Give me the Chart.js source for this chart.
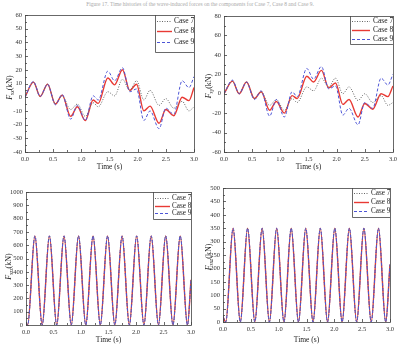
<!DOCTYPE html>
<html>
<head>
<meta charset="utf-8">
<script src="https://cdn.jsdelivr.net/npm/chart.js@4.4.1/dist/chart.umd.min.js"></script>
<style>
  html, body { margin: 0; padding: 0; background: #fff; }
  #wrap { position: relative; width: 400px; height: 346px; overflow: hidden; }
  #wrap canvas { position: absolute; left: 0; top: 0; }
  #caption { position: absolute; left: 0; top: 1px; width: 400px; text-align: center;
             font: 5.5px "Liberation Serif", serif; line-height: 7px; color: #aaa; }
</style>
</head>
<body>
<div id="wrap">
  <div id="caption">Figure 17. Time histories of the wave-induced forces on the components for Case 7, Case 8 and Case 9.</div>
  <canvas id="c1" width="400" height="346"></canvas>
  <canvas id="c2" width="400" height="346"></canvas>
  <canvas id="c3" width="400" height="346"></canvas>
  <canvas id="c4" width="400" height="346"></canvas>
</div>
<script>
// time (s) at the turning points of the upper curves
const timeTop = [0, 0.15, 0.27, 0.40, 0.54, 0.66, 0.81, 0.93, 1.07, 1.21, 1.30, 1.47, 1.59, 1.73, 1.86, 1.98, 2.11, 2.22, 2.38, 2.50, 2.64, 2.79, 2.91, 3.0];

// F_sx (kN)
const fxCase7 = [0, 11, 0.5, 9.5, -5, 1, -9, -5, -14, -4, -7, 4, 1, 13, 5, 12, -2, 5, -6, -1, -8, -3, -10, -7];
const fxCase8 = [0, 11, 0.5, 9.5, -5, 1.5, -14, -7, -17, -2, -4.5, 14, 9, 20, 5, 9.5, -10, -6.5, -19, -9, -13.5, 0, -2.5, 7];
const fxCase9 = [0, 11.5, 0.5, 9.5, -5.5, 2, -16, -6, -17, 1, -2, 19, 12, 21.5, 4, 6, -17, -10, -23, -8, -12.5, 12, 7, 15];

// F_sy (kN)
const fyCase7 = [0, 13, 0, 12, -5, 2, -12, -6, -17, -5, -9, 7, 3, 16, 7, 16, 0, 7, -7, 0, -9, -2, -12, -9];
const fyCase8 = [0, 13, 0, 12, -5, 2, -17, -8, -20, -2, -5, 18, 12, 24, 6, 11, -11, -6, -24, -10, -16, 0, -3, 8];
const fyCase9 = [0, 14, 0, 12, -6, 3, -23, -6, -24, 2, -3, 26, 15, 28, 5, 8, -22, -15, -32, -9, -15, 16, 9, 20];

// lower left: troughs and crests (the three cases coincide)
const timeLowL = [0, 0.030, 0.162, 0.294, 0.426, 0.558, 0.691, 0.823, 0.955, 1.087, 1.219, 1.351, 1.483, 1.615, 1.747, 1.879, 2.012, 2.144, 2.276, 2.408, 2.540, 2.672, 2.804, 2.936, 3.0];
const fzzL = [20, 0, 670, 0, 670, 0, 670, 0, 670, 0, 670, 0, 670, 0, 670, 0, 670, 0, 670, 0, 670, 0, 670, 0, 340];

// lower right
const timeLowR = [0, 0.050, 0.181, 0.311, 0.442, 0.572, 0.703, 0.834, 0.964, 1.095, 1.225, 1.356, 1.487, 1.617, 1.748, 1.878, 2.009, 2.140, 2.270, 2.401, 2.531, 2.662, 2.793, 2.923, 3.0];
const fzzR = [20, 0, 350, 0, 350, 0, 350, 0, 350, 0, 350, 0, 350, 0, 350, 0, 350, 0, 350, 0, 350, 0, 350, 0, 215];

const caseNames = ['Case 7', 'Case 8', 'Case 9'];

const serif = '"Liberation Serif", "Times New Roman", serif';
const zip = (xs, ys) => xs.map((x, i) => ({ x: x, y: ys[i] }));

// room kept for the tick labels of each axis
const Y_AXIS_W = 24;
const X_AXIS_H = 11;

function caseSets(times, v7, v8, v9) {
    return [
        { label: caseNames[0], data: zip(times, v7), borderColor: '#666', borderWidth: 1, borderDash: [1, 1.5], order: 1 },
        { label: caseNames[1], data: zip(times, v8), borderColor: '#e83a34', borderWidth: 1.4, borderDash: [], order: 2 },
        { label: caseNames[2], data: zip(times, v9), borderColor: '#4d55d6', borderWidth: 1, borderDash: [3, 2], order: 0 }
    ];
}

// frame, inward ticks, axis titles and the boxed legend
const framePlugin = {
    id: 'frame',
    afterDraw(chart, args, o) {
        const { ctx, chartArea: a, scales: { x, y } } = chart;
        ctx.save();
        ctx.strokeStyle = '#444';
        ctx.lineWidth = 0.8;
        ctx.setLineDash([]);
        ctx.strokeRect(a.left + 0.5, a.top + 0.5, a.right - a.left, a.bottom - a.top);

        ctx.beginPath();
        x.ticks.forEach(t => {
            const px = Math.round(x.getPixelForValue(t.value)) + 0.5;
            const len = t.label ? 3 : 2;
            ctx.moveTo(px, a.bottom);
            ctx.lineTo(px, a.bottom - len);
        });
        y.ticks.forEach(t => {
            const py = Math.round(y.getPixelForValue(t.value)) + 0.5;
            const len = t.label ? 3 : 2;
            ctx.moveTo(a.left, py);
            ctx.lineTo(a.left + len, py);
        });
        ctx.stroke();

        // x title
        ctx.fillStyle = '#222';
        ctx.font = '7.5px ' + serif;
        ctx.textAlign = 'center';
        ctx.textBaseline = 'middle';
        ctx.fillText('Time (s)', (a.left + a.right) / 2, o.xTitleY);

        // y title: italic F with subscript, then (kN)
        ctx.save();
        ctx.translate(o.yTitleX, (a.top + a.bottom) / 2 + o.yTitleDy);
        ctx.rotate(-Math.PI / 2);
        ctx.textAlign = 'left';
        ctx.textBaseline = 'alphabetic';
        ctx.font = 'italic 8px ' + serif;
        const wF = ctx.measureText('F').width;
        ctx.font = 'italic 5.5px ' + serif;
        const wS = ctx.measureText(o.sub).width;
        ctx.font = '8px ' + serif;
        const wK = ctx.measureText('(kN)').width;
        let px = -(wF + wS + wK) / 2;
        ctx.font = 'italic 8px ' + serif;
        ctx.fillText('F', px, 3);
        px += wF;
        ctx.font = 'italic 5.5px ' + serif;
        ctx.fillText(o.sub, px, 5);
        px += wS;
        ctx.font = '8px ' + serif;
        ctx.fillText('(kN)', px, 3);
        ctx.restore();

        // legend box
        const lg = o.legend;
        ctx.beginPath();
        ctx.moveTo(lg.left + 0.5, a.top);
        ctx.lineTo(lg.left + 0.5, lg.bottom + 0.5);
        ctx.lineTo(a.right, lg.bottom + 0.5);
        ctx.stroke();

        ctx.font = lg.font + 'px ' + serif;
        ctx.textAlign = 'left';
        ctx.textBaseline = 'middle';
        chart.data.datasets.forEach((ds, i) => {
            const ry = lg.rows[i] + 0.5;
            ctx.strokeStyle = ds.borderColor;
            ctx.lineWidth = ds.borderWidth;
            ctx.setLineDash(ds.borderDash);
            ctx.beginPath();
            ctx.moveTo(lg.sample[0], ry);
            ctx.lineTo(lg.sample[1], ry);
            ctx.stroke();
            ctx.fillStyle = '#222';
            ctx.fillText(ds.label, lg.textX, ry);
        });
        ctx.restore();
    }
};

function makeChart(id, cfg) {
    const a = cfg.area;
    new Chart(document.getElementById(id), {
        type: 'line',
        data: { datasets: cfg.datasets },
        options: {
            responsive: false,
            animation: false,
            events: [],
            layout: {
                padding: {
                    left: a.l - Y_AXIS_W,
                    top: a.t,
                    right: 400 - a.r,
                    bottom: 346 - a.b - X_AXIS_H
                }
            },
            elements: {
                point: { radius: 0 },
                line: { cubicInterpolationMode: 'monotone', borderCapStyle: 'butt' }
            },
            plugins: {
                legend: { display: false },
                tooltip: { enabled: false },
                frame: cfg.frame
            },
            scales: {
                x: {
                    type: 'linear', min: 0, max: 3,
                    grid: { display: false, drawTicks: false },
                    border: { display: false },
                    afterFit: s => { s.height = X_AXIS_H; },
                    ticks: {
                        stepSize: 0.25, maxTicksLimit: 100, autoSkip: false, maxRotation: 0,
                        padding: 3, color: '#333', font: { family: serif, size: 6.5 },
                        callback: v => {
                            const r = Math.round(v * 4);
                            return r % 2 === 0 ? (r / 4).toFixed(1) : '';
                        }
                    }
                },
                y: {
                    type: 'linear', min: cfg.ymin, max: cfg.ymax,
                    grid: { display: false, drawTicks: false },
                    border: { display: false },
                    afterFit: s => { s.width = Y_AXIS_W; },
                    ticks: {
                        stepSize: cfg.ystep, maxTicksLimit: 100, autoSkip: false,
                        padding: 3, color: '#333', font: { family: serif, size: 6.5 },
                        callback: v => (Math.abs(v % cfg.ymajor) < 1e-9 ? String(v) : '')
                    }
                }
            }
        },
        plugins: [framePlugin]
    });
}

makeChart('c1', {
    area: { l: 25, t: 15, r: 194, b: 152 },
    ymin: -40, ymax: 60, ystep: 5, ymajor: 10,
    datasets: caseSets(timeTop, fxCase7, fxCase8, fxCase9),
    frame: {
        sub: 'sx', yTitleX: 9, yTitleDy: 4, xTitleY: 167,
        legend: { left: 155, bottom: 52, rows: [21, 31, 42], sample: [157, 172], textX: 174, font: 7.5 }
    }
});

makeChart('c2', {
    area: { l: 224, t: 16, r: 393, b: 152 },
    ymin: -60, ymax: 80, ystep: 10, ymajor: 20,
    datasets: caseSets(timeTop, fyCase7, fyCase8, fyCase9),
    frame: {
        sub: 'sy', yTitleX: 208, yTitleDy: 2, xTitleY: 167,
        legend: { left: 350, bottom: 44, rows: [21, 30, 39], sample: [352, 370], textX: 373, font: 7.5 }
    }
});

makeChart('c3', {
    area: { l: 26, t: 192, r: 191, b: 325 },
    ymin: 0, ymax: 1000, ystep: 50, ymajor: 100,
    datasets: caseSets(timeLowL, fzzL, fzzL, fzzL),
    frame: {
        sub: 'szz', yTitleX: 8, yTitleDy: 8, xTitleY: 340,
        legend: { left: 153, bottom: 219, rows: [198, 206, 213], sample: [155, 170], textX: 172, font: 7.2 }
    }
});

makeChart('c4', {
    area: { l: 223, t: 188, r: 390, b: 322 },
    ymin: 0, ymax: 500, ystep: 25, ymajor: 50,
    datasets: caseSets(timeLowR, fzzR, fzzR, fzzR),
    frame: {
        sub: 'sxz', yTitleX: 208, yTitleDy: 2, xTitleY: 340,
        legend: { left: 352, bottom: 217, rows: [193, 202, 211], sample: [354, 369], textX: 371, font: 7.2 }
    }
});
</script>
</body>
</html>
